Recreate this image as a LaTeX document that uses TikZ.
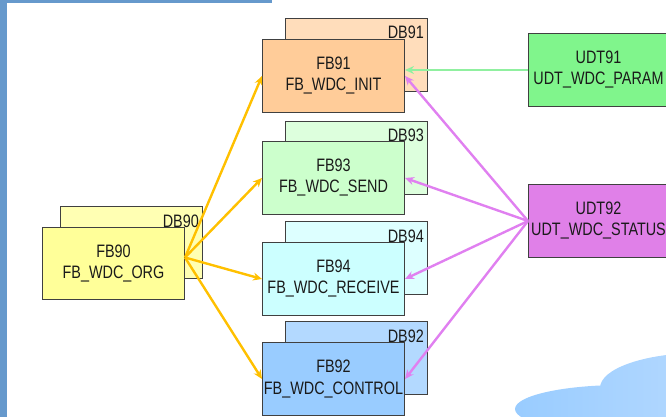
\documentclass[tikz,border=0pt]{standalone}
\usepackage{fontspec}
\newfontfamily\lbl{Liberation Sans}[FakeStretch=0.8]
\usetikzlibrary{arrows.meta}
\definecolor{frameblue}{HTML}{6699CC}
\definecolor{edge}{HTML}{404040}
\definecolor{txt}{HTML}{1A1A1A}
\definecolor{fbA}{HTML}{FFCC99}\definecolor{dbA}{HTML}{FFDDBB}
\definecolor{fbB}{HTML}{CCFFCC}\definecolor{dbB}{HTML}{DDFFDD}
\definecolor{fbC}{HTML}{CCFFFF}\definecolor{dbC}{HTML}{DDFFFF}
\definecolor{fbD}{HTML}{99CCFF}\definecolor{dbD}{HTML}{B3D9FF}
\definecolor{fbE}{HTML}{FFFF99}\definecolor{dbE}{HTML}{FFFFB3}
\definecolor{udtA}{HTML}{80F58C}
\definecolor{udtB}{HTML}{E080E8}
\definecolor{ylw}{HTML}{FFC000}
\definecolor{pnk}{HTML}{E080F0}
\definecolor{grn}{HTML}{90F0A0}
\definecolor{cloudL}{HTML}{99CCFF}
\definecolor{cloudR}{HTML}{C2DFFF}
\tikzset{
  box/.style={draw=edge, line width=1pt, minimum width=142pt, minimum height=73pt,
    anchor=north west, inner sep=0pt, align=center, text=txt,
    font=\lbl\fontsize{18}{21}\selectfont},
  udtbox/.style={box, minimum width=140pt},
  dblabel/.style={anchor=base east, inner sep=0pt, text=txt, font=\lbl\fontsize{18}{21}\selectfont},
  conn/.style={line width=2.4pt, -{Stealth[length=9pt,width=8pt]}},
}
\begin{document}
\begin{tikzpicture}[x=1pt,y=-1pt]
\useasboundingbox (0,0) rectangle (666,417);
\clip (0,0) rectangle (666,417);
% frame
\fill[frameblue] (0,0) rectangle (7,417);
\fill[frameblue] (0,0) rectangle (272,3);
% cloud
\shade[left color=cloudL, right color=cloudR, shading angle=90, nonzero rule]
  (700,388) ellipse[x radius=100, y radius=35]
  (622,409) ellipse[x radius=107, y radius=24];
% DB boxes
\node[box, fill=dbA] (db91) at (285,18) {};
\node[box, fill=dbB] (db93) at (285,121) {};
\node[box, fill=dbC] (db94) at (285,221) {};
\node[box, fill=dbD] (db92) at (285,321) {};
\node[box, fill=dbE, minimum height=72pt] (db90) at (60,206) {};
\node[dblabel] (l91) at ([xshift=-4pt,yshift=-21pt]db91.north east) {DB91};
\node[dblabel] (l93) at ([xshift=-4pt,yshift=-21pt]db93.north east) {DB93};
\node[dblabel] (l94) at ([xshift=-4pt,yshift=-21pt]db94.north east) {DB94};
\node[dblabel] (l92) at ([xshift=-4pt,yshift=-21pt]db92.north east) {DB92};
\node[dblabel] (l90) at ([xshift=-4pt,yshift=-21pt]db90.north east) {DB90};
% FB boxes
\node[box, fill=fbA] (fb91) at (262,39) {FB91\\FB\_WDC\_INIT};
\node[box, fill=fbB] (fb93) at (262,141) {FB93\\FB\_WDC\_SEND};
\node[box, fill=fbC] (fb94) at (262,242) {FB94\\FB\_WDC\_RECEIVE};
\node[box, fill=fbD] (fb92) at (262,342) {FB92\\FB\_WDC\_CONTROL};
\node[box, fill=fbE, minimum height=72pt] (fb90) at (42,227) {FB90\\FB\_WDC\_ORG};
% UDT boxes
\node[udtbox, fill=udtA] (udt91) at (528,33) {UDT91\\UDT\_WDC\_PARAM};
\node[udtbox, fill=udtB] (udt92) at (528,184) {UDT92\\UDT\_WDC\_STATUS};
% yellow connectors
\coordinate (org) at ([yshift=6pt]fb90.east);
\foreach \t in {fb91,fb93,fb94,fb92}
  \draw[conn, ylw] (org) -- (\t.west);
% pink connectors
\foreach \t in {fb91,fb93,fb94,fb92}
  \draw[conn, pnk] (udt92.west) -- (\t.east);
% green connector
\draw[conn, grn] (udt91.west) -- (fb91.east |- udt91.west);
\end{tikzpicture}
\end{document}
